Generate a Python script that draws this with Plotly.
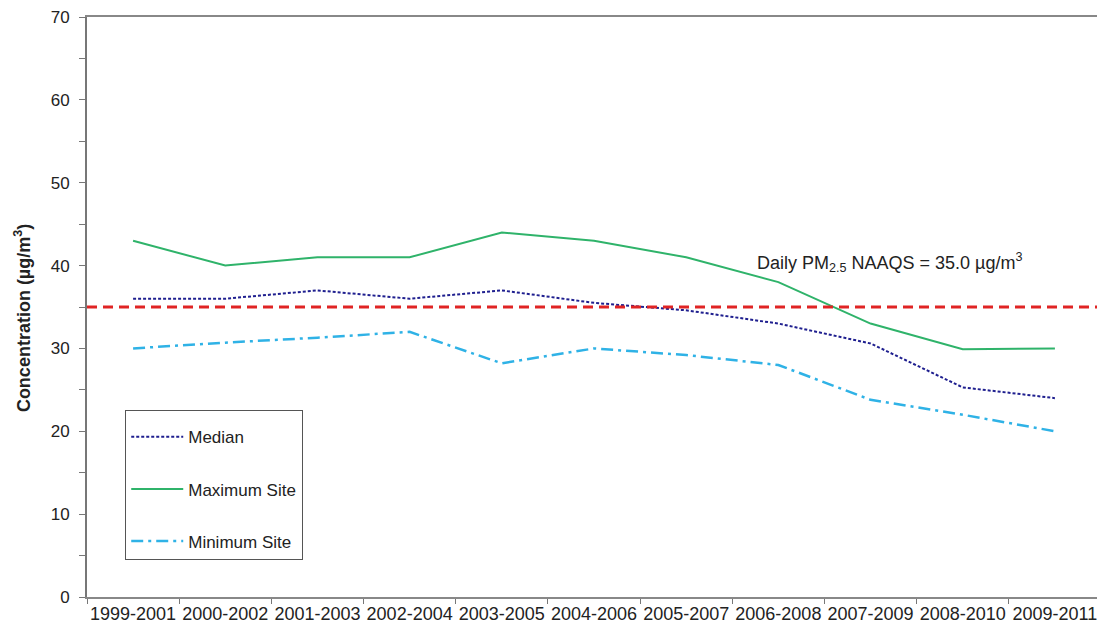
import plotly.graph_objects as go

periods = ["1999-2001", "2000-2002", "2001-2003", "2002-2004", "2003-2005", "2004-2006",
           "2005-2007", "2006-2008", "2007-2009", "2008-2010", "2009-2011"]
median = [36.0, 36.0, 37.0, 36.0, 37.0, 35.5, 34.6, 33.0, 30.6, 25.3, 24.0]
maximum = [43.0, 40.0, 41.0, 41.0, 44.0, 43.0, 41.0, 38.0, 33.0, 29.9, 30.0]
minimum = [30.0, 30.7, 31.3, 32.0, 28.2, 30.0, 29.2, 28.0, 23.8, 22.0, 20.0]
naaqs = 35.0

FONT = "Liberation Sans, Arial, sans-serif"

fig = go.Figure()
fig.add_trace(go.Scatter(x=periods, y=median, mode="lines", name="Median",
                         legendgroup="a",
                         line=dict(color="#1f1f8f", width=2, dash="3px,2px")))
fig.add_trace(go.Scatter(x=periods, y=maximum, mode="lines", name="Maximum Site",
                         legendgroup="b",
                         line=dict(color="#2fb36a", width=2)))
fig.add_trace(go.Scatter(x=periods, y=minimum, mode="lines", name="Minimum Site",
                         legendgroup="c",
                         line=dict(color="#2fb2e6", width=2.5, dash="12px,5px,3px,5px")))

fig.add_shape(type="line", xref="paper", x0=0, x1=1, yref="y", y0=naaqs, y1=naaqs,
              line=dict(color="#e02424", width=3, dash="10px,6px"))

fig.add_annotation(x=6.75, y=40.4, xref="x", yref="y", xanchor="left", yanchor="middle",
                   text="Daily PM<sub>2.5</sub> NAAQS = 35.0 µg/m<sup>3</sup>",
                   showarrow=False, font=dict(family=FONT, size=18, color="#222"))

# y-axis title (placed as an annotation to match its off-centre position)
fig.add_annotation(x=-0.064, y=0.481, xref="paper", yref="paper",
                   xanchor="center", yanchor="middle", textangle=-90,
                   text="<b>Concentration (µg/m<sup>3</sup>)</b>", showarrow=False,
                   font=dict(family=FONT, size=18, color="#222"))

# the page body adds an 8px offset; figure size/margins compensate for it
fig.update_layout(
    width=1097, height=623,
    margin=dict(l=79, r=4, t=9, b=34, autoexpand=False),
    paper_bgcolor="white", plot_bgcolor="white",
    font=dict(family=FONT, color="#222"),
    showlegend=True,
    legend=dict(x=0.0375, y=0.322, xanchor="left", yanchor="top",
                bordercolor="#555", borderwidth=1.2, bgcolor="white",
                font=dict(family=FONT, size=17, color="#222"),
                title=dict(text=" ", font=dict(size=6)),
                tracegroupgap=27, itemwidth=52,
                traceorder="grouped"),
)

fig.update_xaxes(type="category", range=[-0.5, 10.5], tickson="boundaries",
                 ticks="outside", ticklen=5, tickcolor="#777", automargin=False,
                 tickangle=0,
                 showline=True, linecolor="#888", linewidth=1.5, mirror=True,
                 showgrid=False, tickfont=dict(family=FONT, size=18, color="#222"))
fig.update_yaxes(range=[0, 70], dtick=10, ticks="outside", ticklen=6, tickcolor="#777",
                 minor=dict(dtick=5, ticks="outside", ticklen=6, tickcolor="#777"),
                 showline=True, linecolor="#777", linewidth=2, mirror=True,
                 showgrid=False, zeroline=False, automargin=False,
                 ticklabelstandoff=6, ticklabeloverflow="allow",
                 tickfont=dict(family=FONT, size=17, color="#222"))

fig.write_html("out.html")
